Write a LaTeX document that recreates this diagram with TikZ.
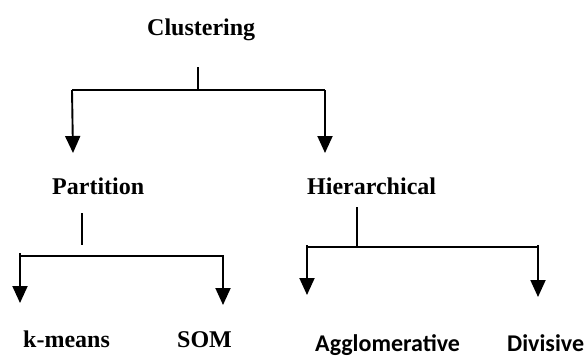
\documentclass[tikz,border=0pt]{standalone}
\usepackage{fontspec}
\setmainfont{Liberation Serif}
\newfontfamily\calib{Carlito}
\usetikzlibrary{arrows.meta}
\begin{document}
\begin{tikzpicture}[x=1pt,y=-1pt,
  lbl/.style={anchor=base west,inner sep=0pt,font=\fontsize{24}{28}\selectfont\bfseries},
  slbl/.style={anchor=base west,inner sep=0pt,font=\fontsize{24}{28}\selectfont\calib\bfseries},
  ln/.style={line width=1.4pt},
  arr/.style={line width=1.9pt,-{Triangle[width=15pt,length=17pt]}}]
\useasboundingbox (0,0) rectangle (585,356);
\node[lbl] (clu) at (147,35) {Clustering};
\node[lbl] (par) at (52,194) {Partition};
\node[lbl] (hie) at (307,194) {Hierarchical};
\node[lbl] (km) at (23,347) {k-means};
\node[lbl] (som) at (177,347) {SOM};
\node[slbl] (agg) at (315,351) {Agglomerative};
\node[slbl] (div) at (507,351) {Divisive};
% top level
\coordinate (c0) at (198,67);
\coordinate (c1) at (198,90);
\coordinate (cL) at (72,90);
\coordinate (cR) at (325,90);
\coordinate (tL) at (73,153);
\coordinate (tR) at (325,153);
\draw[ln] (c0) -- (c1);
\draw[ln] (cL) -- (cR);
\draw[arr] (cL) -- (tL);
\draw[arr] (cR) -- (tR);
% partition
\coordinate (p0) at (82,213);
\coordinate (p1) at (82,245);
\coordinate (pL) at (19,256);
\coordinate (pR) at (223,256);
\coordinate (pLa) at (20,253);
\coordinate (pRa) at (223,255);
\coordinate (ptL) at (20,303);
\coordinate (ptR) at (223,305);
\draw[ln] (p0) -- (p1);
\draw[ln] (pL) -- (pR);
\draw[arr] (pLa) -- (ptL);
\draw[arr] (pRa) -- (ptR);
% hierarchical
\coordinate (h0) at (357,207);
\coordinate (h1) at (357,247);
\coordinate (hL) at (307,247);
\coordinate (hR) at (538,247);
\coordinate (hLa) at (307,245);
\coordinate (hRa) at (538,245);
\coordinate (htL) at (307,295);
\coordinate (htR) at (538,297);
\draw[ln] (h0) -- (h1);
\draw[ln] (hL) -- (hR);
\draw[arr] (hLa) -- (htL);
\draw[arr] (hRa) -- (htR);
\end{tikzpicture}
\end{document}
